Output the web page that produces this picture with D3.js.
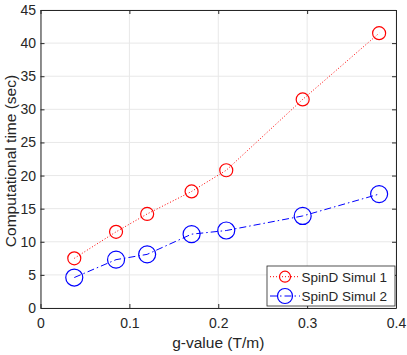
<!DOCTYPE html>
<html lang="en">
<head>
    <meta charset="UTF-8">
    <title>Computational time</title>
    <script src="https://cdnjs.cloudflare.com/ajax/libs/d3/7.8.0/d3.min.js"></script>
    <style>
        body { margin: 0; background: #fff; }
        text { font-family: "Liberation Sans", Arial, sans-serif; fill: #262626; }
    </style>
</head>
<body>
    <svg id="viz" width="407" height="355"></svg>

    <script>
        // data
        const gValues = [0.038, 0.085, 0.12, 0.17, 0.209, 0.295, 0.381];
        const simul1 = [7.5, 11.5, 14.2, 17.6, 20.8, 31.5, 41.5];
        const simul2 = [4.6, 7.3, 8.1, 11.15, 11.7, 13.9, 17.2];
        const xTicks = [0, 0.1, 0.2, 0.3, 0.4];
        const yTicks = [0, 5, 10, 15, 20, 25, 30, 35, 40, 45];
        const seriesNames = ["SpinD Simul 1", "SpinD Simul 2"];

        const svg = d3.select('#viz');
        const pLeft = 40.5, pRight = 396, pTop = 10, pBottom = 308;

        const x = d3.scaleLinear().domain([0, 0.4]).range([pLeft, pRight]);
        const y = d3.scaleLinear().domain([0, 45]).range([pBottom, pTop]);

        // grid
        svg.append("g").selectAll("line").data(xTicks).join("line")
            .attr("x1", d => x(d)).attr("x2", d => x(d))
            .attr("y1", pTop).attr("y2", pBottom)
            .attr("stroke", "#e8e8e8").attr("stroke-width", 1);
        svg.append("g").selectAll("line").data(yTicks).join("line")
            .attr("x1", pLeft).attr("x2", pRight)
            .attr("y1", d => y(d)).attr("y2", d => y(d))
            .attr("stroke", "#e8e8e8").attr("stroke-width", 1);

        // axes, ticks pointing inward like matlab
        const xAxis = svg.append("g").attr("transform", "translate(0," + pBottom + ")")
            .call(d3.axisBottom(x).tickValues(xTicks).tickSizeInner(-4).tickSizeOuter(0)
                .tickFormat(d => d === 0 ? "0" : d3.format(".1f")(d)));
        const yAxis = svg.append("g").attr("transform", "translate(" + pLeft + ",0)")
            .call(d3.axisLeft(y).tickValues(yTicks).tickSizeInner(-4).tickSizeOuter(0));
        [xAxis, yAxis].forEach(a => {
            a.attr("font-size", null).attr("font-family", null);
            a.select(".domain").attr("stroke", "#262626");
            a.selectAll(".tick line").attr("stroke", "#262626");
            a.selectAll(".tick text").style("font-size", "14px").attr("fill", "#262626");
        });
        xAxis.selectAll(".tick text").attr("dy", "1.2em");
        yAxis.selectAll(".tick text").attr("dx", "-0.1em");

        // top and right box lines
        const topAx = svg.append("g").attr("transform", "translate(0," + pTop + ")")
            .call(d3.axisTop(x).tickValues(xTicks).tickSizeInner(-4).tickSizeOuter(0).tickFormat(""));
        const rightAx = svg.append("g").attr("transform", "translate(" + pRight + ",0)")
            .call(d3.axisRight(y).tickValues(yTicks).tickSizeInner(-4).tickSizeOuter(0).tickFormat(""));
        [topAx, rightAx].forEach(a => {
            a.select(".domain").attr("stroke", "#262626");
            a.selectAll(".tick line").attr("stroke", "#262626");
        });

        // series
        const series = [
            { name: seriesNames[0], vals: simul1, color: "#ff0000", dash: "1,2", r: 6.5 },
            { name: seriesNames[1], vals: simul2, color: "#0000ff", dash: "7,3,1.5,3", r: 8.5 }
        ];
        const line = d3.line().x(d => x(d[0])).y(d => y(d[1]));

        series.forEach(s => {
            const pts = gValues.map((g, i) => [g, s.vals[i]]);
            svg.append("path").datum(pts)
                .attr("d", line)
                .attr("fill", "none")
                .attr("stroke", s.color)
                .attr("stroke-width", 1)
                .attr("stroke-dasharray", s.dash);
            svg.append("g").selectAll("circle").data(pts).join("circle")
                .attr("cx", d => x(d[0])).attr("cy", d => y(d[1]))
                .attr("r", s.r)
                .attr("fill", "none")
                .attr("stroke", s.color)
                .attr("stroke-width", 1.2);
        });

        // axis labels
        svg.append("text")
            .attr("x", (pLeft + pRight) / 2).attr("y", 348)
            .attr("text-anchor", "middle").style("font-size", "15.5px")
            .text("g-value (T/m)");
        svg.append("text")
            .attr("transform", "translate(15.5," + 161 + ") rotate(-90)")
            .attr("text-anchor", "middle").style("font-size", "15.5px")
            .text("Computational time (sec)");

        // legend
        const lg = svg.append("g");
        lg.append("rect")
            .attr("x", 267).attr("y", 266).attr("width", 128).attr("height", 40)
            .attr("fill", "#fff").attr("stroke", "#262626").attr("stroke-width", 0.8);
        series.forEach((s, i) => {
            const cy = 276.7 + i * 19.3;
            lg.append("line")
                .attr("x1", 270).attr("x2", 300).attr("y1", cy).attr("y2", cy)
                .attr("stroke", s.color).attr("stroke-dasharray", s.dash);
            lg.append("circle")
                .attr("cx", 285).attr("cy", cy).attr("r", s.r - 1)
                .attr("fill", "none").attr("stroke", s.color).attr("stroke-width", 1.2);
            lg.append("text")
                .attr("x", 301.5).attr("y", cy + 5)
                .style("font-size", "13.5px").attr("fill", "#000")
                .text(s.name);
        });
    </script>
</body>
</html>
